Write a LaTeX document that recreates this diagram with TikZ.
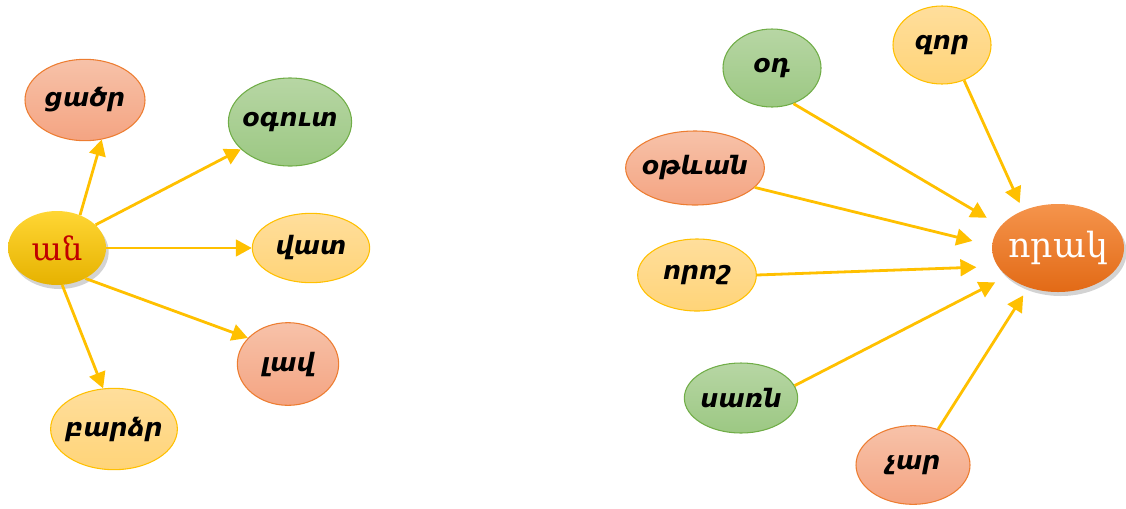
\documentclass[tikz,border=0pt]{standalone}
\usepackage{fontspec}
\newfontfamily\armsans{DejaVu Sans}
\newfontfamily\armserif{DejaVu Serif}
\usetikzlibrary{arrows.meta,shadows,shapes.geometric}
\definecolor{linkgold}{HTML}{FFC000}
\definecolor{hubred}{HTML}{C00000}
\definecolor{salmontop}{HTML}{F7C2A9}
\definecolor{salmonbot}{HTML}{F4A482}
\definecolor{salmonedge}{HTML}{ED7D31}
\definecolor{leaftop}{HTML}{B7D6A4}
\definecolor{leafbot}{HTML}{9CC883}
\definecolor{leafedge}{HTML}{70AD47}
\definecolor{sandtop}{HTML}{FFDE9C}
\definecolor{sandbot}{HTML}{FFD478}
\tikzset{
  word/.style={ellipse, inner xsep=-3pt, inner ysep=-4pt, line width=0.8pt, text=black,
    font=\armsans\bfseries\itshape\fontsize{19}{22}\selectfont},
  wh/.style 2 args={minimum width=#1pt, minimum height=#2pt},
  salmonword/.style={word, draw=salmonedge, top color=salmontop, bottom color=salmonbot},
  greenword/.style={word, draw=leafedge, top color=leaftop, bottom color=leafbot},
  sandword/.style={word, draw=linkgold, top color=sandtop, bottom color=sandbot},
  hub/.style={ellipse, inner xsep=-4pt, inner ysep=0pt, font=\armserif\fontsize{24}{27}\selectfont,
    drop shadow={opacity=0.35, shadow xshift=2pt, shadow yshift=-3pt}},
  link/.style={draw=linkgold, line width=2.1pt, -{Triangle[length=12pt, width=12.5pt]}}
}
\begin{document}
\begin{tikzpicture}[x=0.75pt, y=-0.75pt]
\useasboundingbox (0,0) rectangle (1126,508);
% left group: ան
\node[hub, wh={73.5}{55.5}, top color={rgb,255:red,255;green,214;blue,52}, bottom color={rgb,255:red,230;green,178;blue,0}, text=hubred] (an) at (57,248) {ան};
\node[salmonword, wh={90}{61}] (tsatsr) at (85,100) {ցածր};
\node[greenword, wh={87}{66}] (ogut) at (290,122) {օգուտ};
\node[sandword, wh={88}{52}] (vat) at (311,248) {վատ};
\node[salmonword, wh={76}{62}] (lav) at (288,364) {լավ};
\node[sandword, wh={92}{61}] (bardzr) at (114,429) {բարձր};
\draw[link] (an.55) -- (tsatsr.-67);
\draw[link] (an.31) -- (ogut.209);
\draw[link] (an) -- (vat);
\draw[link] (an.-47) -- (lav.147);
\draw[link] (an.-82) -- (bardzr.105);
% right group: որակ
\node[hub, wh={99}{66}, top color={rgb,255:red,245;green,148;blue,76}, bottom color={rgb,255:red,226;green,106;blue,22}, text=white, font=\armserif\fontsize{26}{29}\selectfont] (vorak) at (1058,248) {որակ};
\node[greenword, wh={73.5}{58.5}] (od) at (772,68) {օդ};
\node[sandword, wh={73.5}{58.5}] (zor) at (942,45) {զոր};
\node[salmonword, wh={102}{55.5}] (otevan) at (695,168) {օթևան};
\node[sandword, wh={89}{54}] (vorosh) at (697,275) {որոշ};
\node[greenword, wh={85}{52.5}] (sarn) at (741,398) {սառն};
\node[salmonword, wh={85.5}{59}] (char) at (913,465) {չար};
\draw[link, shorten >=12pt] (od.-59) -- (vorak.159);
\draw[link, shorten >=6pt] (zor.-58) -- (vorak.133);
\draw[link, shorten >=15pt] (otevan.-18) -- (vorak.178);
\draw[link, shorten >=16pt] (vorosh.east) -- (vorak.197);
\draw[link, shorten >=10pt] (sarn.13) -- (vorak.209);
\draw[link, shorten >=7pt] (char.55) -- (vorak.233);
\end{tikzpicture}
\end{document}
